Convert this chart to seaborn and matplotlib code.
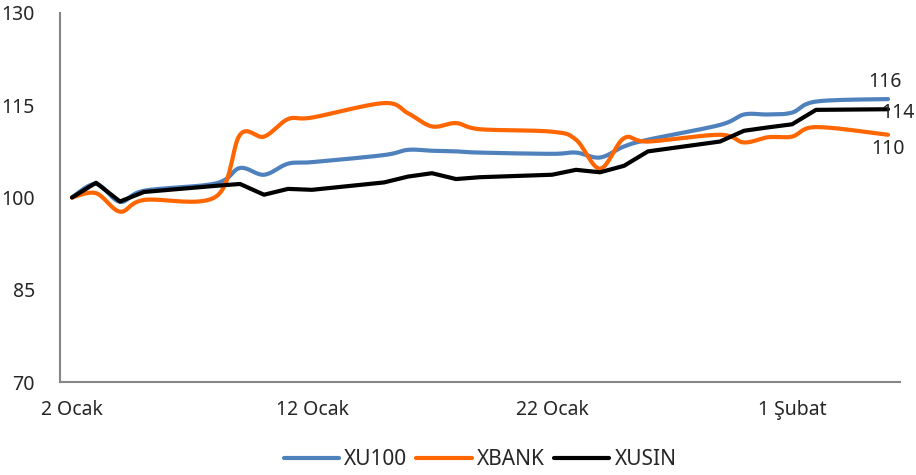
import numpy as np
import pandas as pd
import seaborn as sns
import matplotlib.pyplot as plt

# işlem günleri
tarihler = ["2018-01-02", "2018-01-03", "2018-01-04", "2018-01-05", "2018-01-08",
            "2018-01-09", "2018-01-10", "2018-01-11", "2018-01-12", "2018-01-15",
            "2018-01-16", "2018-01-17", "2018-01-18", "2018-01-19", "2018-01-22",
            "2018-01-23", "2018-01-24", "2018-01-25", "2018-01-26", "2018-01-29",
            "2018-01-30", "2018-01-31", "2018-02-01", "2018-02-02", "2018-02-05"]

xu100 = [100.0, 102.2, 99.3, 101.1, 102.3, 104.8, 103.7, 105.5, 105.75, 106.9,
         107.75, 107.6, 107.5, 107.3, 107.1, 107.3, 106.5, 108.3, 109.4, 111.8,
         113.5, 113.5, 113.8, 115.6, 116.0]
xbank = [100.0, 100.7, 97.7, 99.6, 100.15, 110.2, 109.9, 112.75, 113.0, 115.35,
         113.7, 111.55, 112.1, 111.1, 110.7, 109.4, 104.7, 109.65, 109.1, 110.2,
         108.95, 109.8, 109.9, 111.45, 110.2]
xusin = [100.0, 102.4, 99.35, 100.9, 101.9, 102.2, 100.45, 101.4, 101.25, 102.45,
         103.4, 103.95, 103.0, 103.3, 103.7, 104.5, 104.1, 105.15, 107.5, 109.1,
         110.85, 111.4, 111.9, 114.25, 114.35]

etiketler = ["2 Ocak", "12 Ocak", "22 Ocak", "1 Şubat"]
son_etiketler = ["116", "110", "114"]

gun = (pd.to_datetime(tarihler) - pd.Timestamp("2018-01-02")).days.to_numpy().astype(float)


def yumusat(x, y, n=20):
    # Excel'in "düzgün çizgi" seçeneğine benzer Bezier egrisi
    x = np.asarray(x, float)
    y = np.asarray(y, float)
    px, py = [], []
    t = np.linspace(0, 1, n)
    for i in range(len(x) - 1):
        i0, i3 = max(i - 1, 0), min(i + 2, len(x) - 1)
        b1x = x[i] + (x[i + 1] - x[i0]) / 6
        b1y = y[i] + (y[i + 1] - y[i0]) / 6
        b2x = x[i + 1] - (x[i3] - x[i]) / 6
        b2y = y[i + 1] - (y[i3] - y[i]) / 6
        px.append((1 - t) ** 3 * x[i] + 3 * (1 - t) ** 2 * t * b1x + 3 * (1 - t) * t ** 2 * b2x + t ** 3 * x[i + 1])
        py.append((1 - t) ** 3 * y[i] + 3 * (1 - t) ** 2 * t * b1y + 3 * (1 - t) * t ** 2 * b2y + t ** 3 * y[i + 1])
    return np.concatenate(px), np.concatenate(py)


sns.set_style("white")
plt.rcParams['font.family'] = ['Noto Sans', 'DejaVu Sans']

fig = plt.figure(figsize=(9.16, 4.75), dpi=100)
ax = fig.add_axes([60 / 916, 1 - 382 / 475, 840 / 916, 369 / 475])

mavi, turuncu = "#4F81BD", "#FF6600"

sx, sy = yumusat(gun, xu100)
sns.lineplot(x=sx, y=sy, color=mavi, linewidth=3, ax=ax, label="XU100", sort=False)
sx, sy = yumusat(gun, xbank)
sns.lineplot(x=sx, y=sy, color=turuncu, linewidth=3, ax=ax, label="XBANK", sort=False)
sns.lineplot(x=gun, y=xusin, color="black", linewidth=3, ax=ax, label="XUSIN", sort=False)

ax.set_xlim(-0.5, 34.5)
ax.set_ylim(70, 130)
ax.set_yticks([70, 85, 100, 115, 130])
ax.set_xticks([-0.5, 9.5, 19.5, 29.5])
ax.set_xticklabels([])
ax.set_xticks([0, 10, 20, 30], minor=True)
ax.set_xticklabels(etiketler, minor=True)
ax.tick_params(axis="x", which="minor", length=0, pad=13, labelsize=14)
ax.tick_params(axis="both", which="major", length=6, width=1.2, color="#868686",
               direction="out", labelsize=14, pad=12)
ax.set_xlabel("")
ax.set_ylabel("")

for s in ["top", "right"]:
    ax.spines[s].set_visible(False)
for s in ["left", "bottom"]:
    ax.spines[s].set_color("#868686")
    ax.spines[s].set_linewidth(1.5)

# son degerler
ax.annotate(son_etiketler[0], (gun[-1], xu100[-1]), xytext=(-2, 12), textcoords="offset points",
            ha="center", va="center", fontsize=14)
ax.annotate(son_etiketler[1], (gun[-1], xbank[-1]), xytext=(0, -10), textcoords="offset points",
            ha="center", va="center", fontsize=14)
ax.annotate(son_etiketler[2], (gun[-1], xusin[-1]), xytext=(7, -3), textcoords="offset points",
            ha="center", va="center", fontsize=14)

ax.legend(loc="center", bbox_to_anchor=(0.5, -0.211), ncol=3, frameon=False, fontsize=15,
          handlelength=2.65, handletextpad=0.25, columnspacing=0.45)

fig.savefig("out.png", dpi=100)
